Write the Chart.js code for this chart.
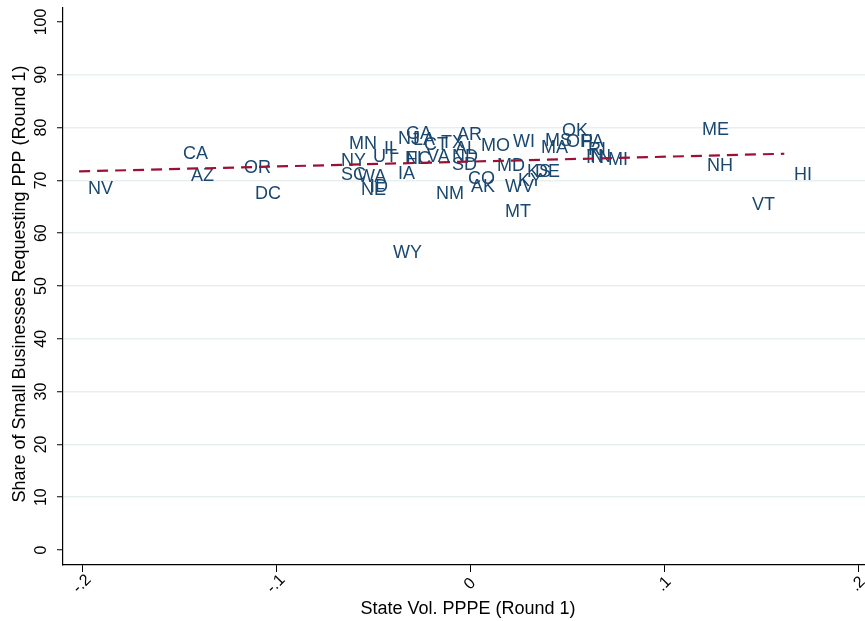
<!DOCTYPE html>
<html>
<head>
<meta charset="utf-8">
<script src="https://cdn.jsdelivr.net/npm/chart.js@4"></script>
<style>
  html, body { margin: 0; padding: 0; background: #fff; }
  #wrap { width: 865px; height: 621px; position: relative; }
</style>
</head>
<body>
<div id="wrap"><canvas id="ppp"></canvas></div>
<script>
// state labels and values
const states = ['NV','CA','AZ','OR','DC','MN','NY','SC','WA','NE','ID','UT','IL','FL','NJ','GA','LA','CT','TX','AL',
  'NC','IA','VA','ND','AR','SD','NM','CO','AK','MO','WI','MD','WV','KY','KS','DE','MT','MS','MA','OK',
  'OH','PA','RI','IN','TN','MI','ME','NH','VT','HI','WY'];
const volPPPE = [-0.2015,-0.1526,-0.1485,-0.1211,-0.1155,-0.0670,-0.0711,-0.0711,-0.0624,-0.0608,-0.0562,-0.0546,-0.0490,-0.0376,-0.0418,-0.0376,-0.0340,-0.0284,-0.0196,-0.0124,
  -0.0381,-0.0418,-0.0268,-0.0139,-0.0113,-0.0139,-0.0222,-0.0057,-0.0041,0.0010,0.0175,0.0093,0.0134,0.0201,0.0247,0.0289,0.0134,0.0340,0.0320,0.0428,
  0.0448,0.0526,0.0562,0.0552,0.0557,0.0665,0.1149,0.1175,0.1407,0.1624,-0.0443];
const sharePPP = [68.6,75.2,71.0,72.5,67.6,77.1,73.9,71.2,70.8,68.4,68.9,74.6,76.1,74.3,78.0,79.0,77.8,76.9,77.3,76.1,
  74.2,71.4,74.6,74.6,78.8,73.1,67.6,70.5,68.9,76.7,77.5,72.9,68.9,70.1,71.8,71.8,64.2,77.7,76.3,79.5,
  77.5,77.5,75.9,74.4,74.6,74.1,79.7,72.9,65.5,71.2,56.4];
const fitX = [-0.2015, 0.1620];
const fitY = [71.7, 75.05];
const xTicks = [-0.2, -0.1, 0, 0.1, 0.2];
const xTickLabels = ['-.2', '-.1', '0', '.1', '.2'];
const yTicks = [0, 10, 20, 30, 40, 50, 60, 70, 80, 90, 100];

const navy = '#1a476f';
const font = '"Liberation Sans", Arial, Helvetica, sans-serif';

const stataText = {
  id: 'stataText',
  beforeDatasetsDraw(chart) {
    const c = chart.ctx;
    const meta = chart.getDatasetMeta(0);
    c.save();
    c.fillStyle = navy;
    c.font = '18px ' + font;
    c.textAlign = 'left';
    c.textBaseline = 'middle';
    meta.data.forEach((pt, i) => { c.fillText(states[i], pt.x + 9, pt.y + 1); });
    c.restore();
  },
  afterDraw(chart) {
    const c = chart.ctx;
    const xs = chart.scales.x, ys = chart.scales.y;
    c.save();
    c.fillStyle = '#000';
    c.font = '16px ' + font;
    c.textAlign = 'center';
    c.textBaseline = 'middle';
    yTicks.forEach(v => {
      c.save();
      c.translate(42, ys.getPixelForValue(v));
      c.rotate(-Math.PI / 2);
      c.fillText(String(v), 0, 0);
      c.restore();
    });
    xTicks.forEach((v, i) => {
      c.save();
      c.translate(xs.getPixelForValue(v), 584);
      c.rotate(-Math.PI / 4);
      c.fillText(xTickLabels[i], 0, 0);
      c.restore();
    });
    c.font = '18px ' + font;
    c.fillText('State Vol. PPPE (Round 1)', 468, 609);
    c.translate(20, 284);
    c.rotate(-Math.PI / 2);
    c.fillText('Share of Small Businesses Requesting PPP (Round 1)', 0, 0);
    c.restore();
  }
};

new Chart(document.getElementById('ppp'), {
  type: 'scatter',
  data: {
    datasets: [{
      label: 'states',
      data: volPPPE.map((x, i) => ({ x: x, y: sharePPP[i] })),
      pointRadius: 0,
      pointHoverRadius: 0
    }, {
      type: 'line',
      label: 'fit',
      data: fitX.map((x, i) => ({ x: x, y: fitY[i] })),
      borderColor: '#9c1036',
      borderWidth: 2.2,
      borderDash: [11, 7],
      pointRadius: 0,
      fill: false,
      tension: 0
    }]
  },
  options: {
    responsive: true,
    maintainAspectRatio: false,
    animation: false,
    layout: { padding: { top: 8, left: 0, right: 0, bottom: 0 } },
    plugins: { legend: { display: false }, tooltip: { enabled: false } },
    scales: {
      x: {
        type: 'linear',
        min: -0.2098,
        max: 0.2036,
        afterBuildTicks: s => { s.ticks = xTicks.map(v => ({ value: v })); },
        afterFit: s => { s.height = 56; },
        ticks: { display: false },
        grid: { drawOnChartArea: false, drawTicks: true, tickLength: 7, tickColor: '#000', tickWidth: 1 },
        border: { display: true, color: '#000', width: 1.2 }
      },
      y: {
        type: 'linear',
        min: -2.84,
        max: 102.65,
        afterBuildTicks: s => { s.ticks = yTicks.map(v => ({ value: v })); },
        afterFit: s => { s.width = 63; },
        ticks: { display: false },
        grid: {
          drawTicks: true,
          tickLength: 6,
          tickColor: '#000',
          tickWidth: 1,
          lineWidth: 1.5,
          color: ctx => (ctx.tick && (ctx.tick.value === 0 || ctx.tick.value === 100)) ? 'rgba(0,0,0,0)' : '#e8eff1'
        },
        border: { display: true, color: '#000', width: 1.2 }
      }
    }
  },
  plugins: [stataText]
});
</script>
</body>
</html>
